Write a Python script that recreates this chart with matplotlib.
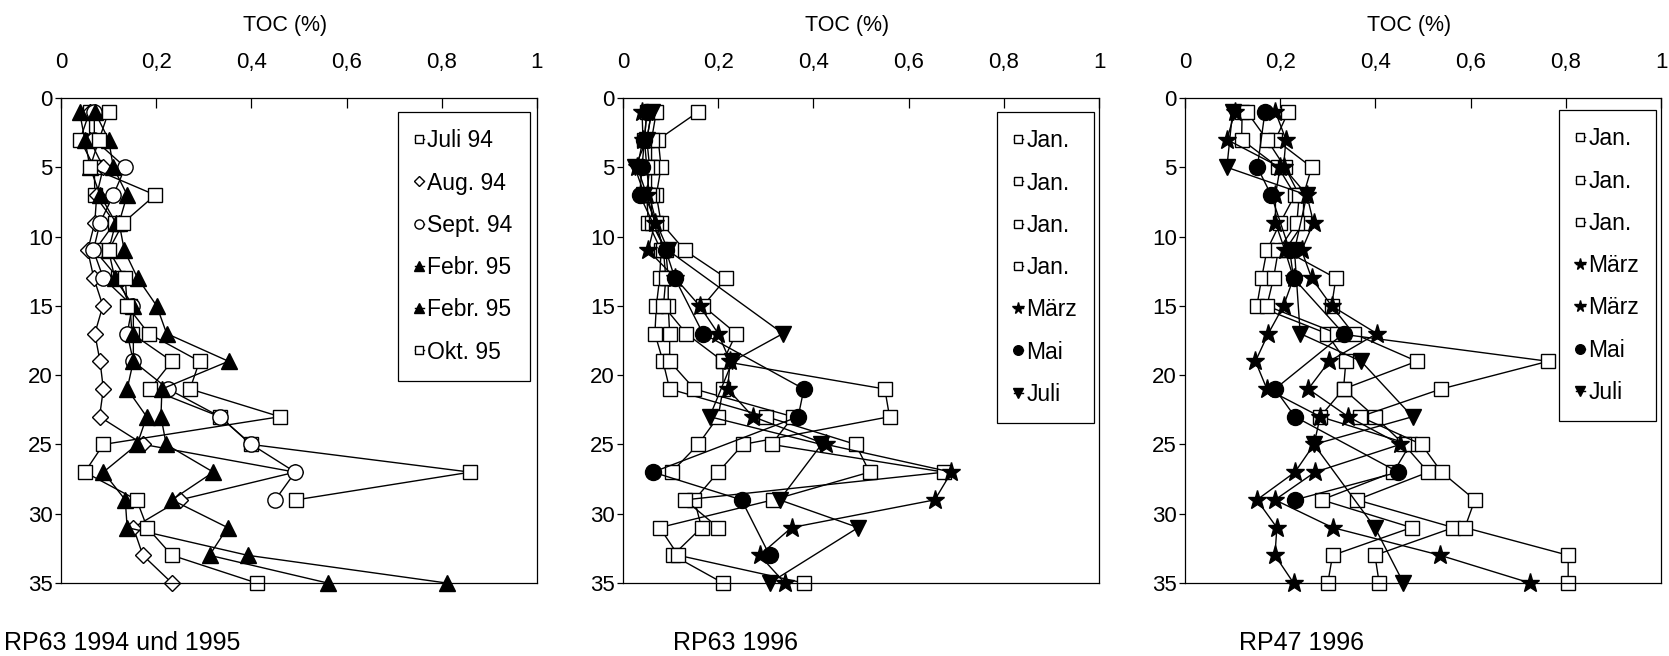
import numpy as np
import matplotlib.pyplot as plt

plt.rcParams['font.family'] = ['Liberation Sans', 'DejaVu Sans']
plt.rcParams['font.size'] = 16

depth = [1, 3, 5, 7, 9, 11, 13, 15, 17, 19, 21, 23, 25, 27, 29, 31, 33, 35]

# RP63 1994 und 1995
rp63a_juli94 = [0.06, 0.04, 0.07, 0.071, 0.113, 0.071, 0.12, 0.145, 0.149, 0.233, 0.187, 0.334, 0.399, 0.86, 0.494]
rp63a_aug94 = [0.06, 0.06, 0.089, 0.075, 0.071, 0.056, 0.069, 0.088, 0.071, 0.082, 0.089, 0.081, 0.173, 0.492, 0.25, 0.152, 0.172, 0.233]
rp63a_sept94 = [0.07, 0.07, 0.135, 0.11, 0.082, 0.068, 0.089, 0.15, 0.139, 0.152, 0.225, 0.334, 0.40, 0.492, 0.45]
rp63a_febr95a = [0.039, 0.05, 0.061, 0.082, 0.115, 0.10, 0.113, 0.152, 0.152, 0.152, 0.139, 0.180, 0.160, 0.089, 0.135, 0.139, 0.392, 0.81]
rp63a_febr95b = [0.071, 0.10, 0.11, 0.139, 0.122, 0.133, 0.161, 0.201, 0.222, 0.352, 0.212, 0.210, 0.221, 0.32, 0.233, 0.35, 0.312, 0.56]
rp63a_okt95 = [0.10, 0.08, 0.061, 0.198, 0.131, 0.10, 0.135, 0.139, 0.184, 0.291, 0.271, 0.46, 0.089, 0.05, 0.159, 0.181, 0.233, 0.411]

# RP63 1996
rp63b_jan1 = [0.158, 0.074, 0.08, 0.07, 0.08, 0.13, 0.217, 0.168, 0.238, 0.21, 0.55, 0.56, 0.252, 0.2, 0.15, 0.165, 0.105, 0.21]
rp63b_jan2 = [0.06, 0.05, 0.056, 0.05, 0.053, 0.08, 0.077, 0.07, 0.067, 0.084, 0.098, 0.301, 0.489, 0.518, 0.315, 0.077, 0.116, 0.38]
rp63b_jan3 = [0.07, 0.06, 0.06, 0.06, 0.06, 0.09, 0.095, 0.095, 0.098, 0.098, 0.15, 0.357, 0.312, 0.675, 0.13, 0.2]
rp63b_jan4 = [0.05, 0.045, 0.05, 0.055, 0.07, 0.085, 0.09, 0.085, 0.133, 0.21, 0.21, 0.2, 0.158, 0.102]
rp63b_maerz = [0.04, 0.042, 0.03, 0.05, 0.067, 0.053, 0.11, 0.161, 0.2, 0.225, 0.22, 0.273, 0.427, 0.69, 0.655, 0.354, 0.287, 0.34]
rp63b_mai_depth = [1, 3, 5, 7, 11, 13, 17, 21, 23, 27, 29, 33]
rp63b_mai = [0.05, 0.045, 0.04, 0.035, 0.09, 0.109, 0.168, 0.38, 0.368, 0.063, 0.249, 0.308]
rp63b_juli_depth = [1, 3, 5, 7, 11, 17, 19, 23, 25, 29, 31, 35]
rp63b_juli = [0.06, 0.05, 0.025, 0.045, 0.095, 0.336, 0.23, 0.182, 0.417, 0.329, 0.494, 0.308]

# RP47 1996
rp47_jan1 = [0.217, 0.19, 0.266, 0.249, 0.249, 0.21, 0.317, 0.308, 0.354, 0.487, 0.333, 0.284, 0.473, 0.438, 0.287, 0.476, 0.31, 0.3]
rp47_jan2 = [0.12, 0.119, 0.196, 0.231, 0.2, 0.172, 0.161, 0.151, 0.298, 0.338, 0.333, 0.399, 0.46, 0.511, 0.361, 0.564, 0.399, 0.408]
rp47_jan3 = [0.13, 0.172, 0.21, 0.24, 0.235, 0.196, 0.186, 0.172, 0.32, 0.763, 0.538, 0.368, 0.497, 0.539, 0.609, 0.588, 0.805, 0.805]
rp47_maerz1 = [0.105, 0.088, 0.2, 0.19, 0.19, 0.21, 0.228, 0.207, 0.175, 0.148, 0.172, 0.284, 0.271, 0.231, 0.151, 0.193, 0.189, 0.228]
rp47_maerz2 = [0.19, 0.212, 0.207, 0.256, 0.27, 0.245, 0.266, 0.308, 0.403, 0.303, 0.259, 0.343, 0.452, 0.273, 0.189, 0.31, 0.536, 0.725]
rp47_mai_depth = [1, 5, 7, 11, 13, 17, 21, 23, 27, 29]
rp47_mai = [0.168, 0.152, 0.181, 0.22, 0.228, 0.333, 0.189, 0.231, 0.448, 0.231]
rp47_juli_depth = [1, 5, 7, 11, 17, 19, 23, 25, 31, 35]
rp47_juli = [0.10, 0.088, 0.256, 0.23, 0.242, 0.37, 0.478, 0.271, 0.399, 0.459]

x_ticks = [0, 0.2, 0.4, 0.6, 0.8, 1]
x_ticklabels = ['0', '0,2', '0,4', '0,6', '0,8', '1']
y_ticks = [0, 5, 10, 15, 20, 25, 30, 35]
panel_names = ['RP63 1994 und 1995', 'RP63 1996', 'RP47 1996']

# marker styles: (marker, size, filled)
styles = {
    'sq': ('s', 10.5, False),
    'dia': ('D', 8, False),
    'circ': ('o', 11, False),
    'tri': ('^', 11, True),
    'star': ('*', 14, True),
    'dot': ('o', 11.5, True),
    'vtri': ('v', 11, True),
}

W, H = 1669, 656
fig = plt.figure(figsize=(W / 100, H / 100), dpi=100)
lefts = [61, 623, 1185]
axes = [fig.add_axes([l / W, 1 - 583 / H, 476 / W, 485 / H]) for l in lefts]


def draw(ax, x, y, kind, label):
    m, ms, filled = styles[kind]
    ax.plot(x, y[:len(x)], color='black', lw=1.0, marker=m, ms=ms,
            mfc='black' if filled else 'white', mec='black', mew=1.0,
            clip_on=False, label=label)


ax = axes[0]
draw(ax, rp63a_juli94, depth, 'sq', 'Juli 94')
draw(ax, rp63a_aug94, depth, 'dia', 'Aug. 94')
draw(ax, rp63a_sept94, depth, 'circ', 'Sept. 94')
draw(ax, rp63a_febr95a, depth, 'tri', 'Febr. 95')
draw(ax, rp63a_febr95b, depth, 'tri', 'Febr. 95')
draw(ax, rp63a_okt95, depth, 'sq', 'Okt. 95')

ax = axes[1]
draw(ax, rp63b_jan1, depth, 'sq', 'Jan.')
draw(ax, rp63b_jan2, depth, 'sq', 'Jan.')
draw(ax, rp63b_jan3, depth, 'sq', 'Jan.')
draw(ax, rp63b_jan4, depth, 'sq', 'Jan.')
draw(ax, rp63b_maerz, depth, 'star', 'März')
draw(ax, rp63b_mai, rp63b_mai_depth, 'dot', 'Mai')
draw(ax, rp63b_juli, rp63b_juli_depth, 'vtri', 'Juli')

ax = axes[2]
draw(ax, rp47_jan1, depth, 'sq', 'Jan.')
draw(ax, rp47_jan2, depth, 'sq', 'Jan.')
draw(ax, rp47_jan3, depth, 'sq', 'Jan.')
draw(ax, rp47_maerz1, depth, 'star', 'März')
draw(ax, rp47_maerz2, depth, 'star', 'März')
draw(ax, rp47_mai, rp47_mai_depth, 'dot', 'Mai')
draw(ax, rp47_juli, rp47_juli_depth, 'vtri', 'Juli')

legend_anchor = [(0.985, 0.971), (0.99, 0.971), (0.99, 0.975)]

for i, ax in enumerate(axes):
    ax.set_xlim(0, 1)
    ax.set_ylim(35, 0)
    ax.xaxis.tick_top()
    ax.set_xticks(x_ticks)
    ax.set_xticklabels(x_ticklabels)
    ax.set_yticks(y_ticks)
    ax.tick_params(axis='x', direction='in', length=7, width=0.9, pad=18,
                   top=True, bottom=False)
    ax.tick_params(axis='y', direction='out', length=4, width=0.9, pad=2,
                   left=True, right=False)
    for sp in ax.spines.values():
        sp.set_linewidth(0.9)
    ax.text(0.47, 1.15, 'TOC (%)', transform=ax.transAxes,
            ha='center', va='center', fontsize=15.5)
    leg = ax.legend(loc='upper right', bbox_to_anchor=legend_anchor[i],
                    fancybox=False, edgecolor='black', framealpha=1,
                    markerscale=0.6, handlelength=0.4, handletextpad=0.15,
                    labelspacing=0.84, borderpad=0.75, borderaxespad=0,
                    fontsize=16.5)
    leg.get_frame().set_linewidth(0.9)

for x0, name in zip([4, 673, 1239], panel_names):
    fig.text(x0 / W, 1 - 643 / H, name, ha='left', va='center', fontsize=18)

fig.savefig('out.png', dpi=100)
